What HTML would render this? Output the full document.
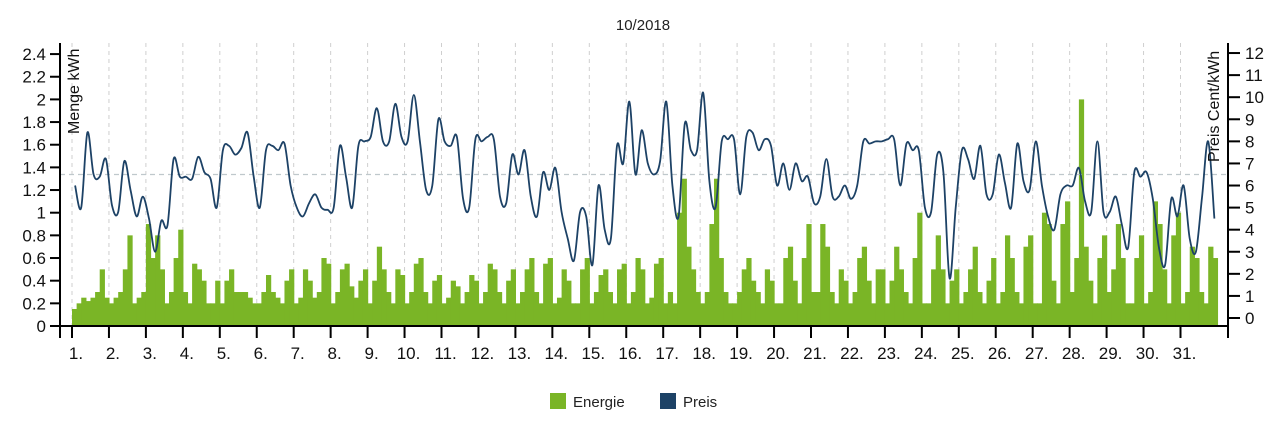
<!DOCTYPE html>
<html><head><meta charset="utf-8">
<style>
body{margin:0;background:#fff;width:1280px;height:432px;overflow:hidden;font-family:"Liberation Sans",sans-serif}
svg text{font-family:"Liberation Sans",sans-serif}
</style></head>
<body>
<svg id="chart" width="1280" height="432" xmlns="http://www.w3.org/2000/svg"></svg>
<script>
const days = [];
for (let i = 1; i <= 31; i++) days.push(i + ".");
const leftTicks = [0,0.2,0.4,0.6,0.8,1,1.2,1.4,1.6,1.8,2,2.2,2.4];
const rightTicks = [0,1,2,3,4,5,6,7,8,9,10,11,12];
const avgPrice = 6.5;
// energy, 8 values per day (3h)
const energy = [
.15,.2,.25,.22,.25,.3,.5,.25, .2,.25,.3,.5,.8,.2,.25,.3, .9,.6,.8,.5,.2,.3,.6,.85,
.3,.2,.55,.5,.4,.2,.2,.4, .2,.4,.5,.3,.3,.3,.25,.2, .2,.3,.45,.3,.25,.2,.4,.5,
.2,.25,.5,.4,.25,.3,.6,.55, .2,.3,.5,.55,.35,.25,.4,.5, .2,.4,.7,.5,.3,.2,.5,.45,
.2,.3,.55,.6,.3,.2,.4,.45, .2,.25,.4,.35,.2,.3,.45,.4, .2,.3,.55,.5,.3,.2,.4,.5,
.2,.3,.5,.6,.3,.2,.55,.6, .2,.25,.5,.4,.2,.2,.5,.6, .2,.3,.45,.5,.3,.2,.5,.55,
.2,.3,.6,.5,.2,.25,.55,.6, .2,.3,.2,1.0,1.3,.7,.5,.3, .2,.3,.9,1.3,.6,.3,.2,.2,
.3,.5,.6,.4,.3,.2,.5,.4, .2,.2,.6,.7,.4,.2,.6,.9, .3,.3,.9,.7,.3,.2,.5,.4,
.2,.3,.6,.7,.4,.2,.5,.5, .2,.4,.7,.5,.3,.2,.6,1.0, .2,.2,.5,.8,.5,.2,.4,.5,
.2,.3,.5,.7,.3,.2,.4,.6, .2,.3,.8,.6,.3,.2,.7,.8, .2,.2,1.0,.9,.4,.2,.9,1.1,
.3,.6,2.0,.7,.4,.2,.6,.8, .3,.5,.9,.6,.2,.2,.6,.8, .2,.3,1.1,.9,.5,.2,.8,1.0,
.2,.3,.7,.6,.3,.2,.7,.6];
// price, 6 values per day (4h)
const price = [
6.0,5.0,8.4,6.5,6.4,7.2, 5.1,4.8,7.1,5.8,4.6,5.5, 4.5,3.0,4.4,4.2,7.2,6.4,
6.4,6.3,7.3,6.6,6.3,5.0, 7.6,7.8,7.4,7.7,8.4,6.4, 5.0,7.6,7.8,7.6,7.9,6.0,
5.0,4.6,5.2,5.6,5.0,4.9, 5.0,7.8,6.4,5.0,7.8,8.0, 8.2,9.5,8.0,8.0,9.7,8.2,
8.0,10.1,8.0,5.8,6.0,9.0, 8.0,7.8,8.2,5.4,5.0,8.1, 8.0,8.2,8.1,5.5,5.2,7.4,
6.5,7.6,5.5,4.6,6.6,5.8, 6.8,4.8,3.6,2.6,4.8,4.6, 2.4,6.0,4.0,3.6,7.8,7.0,
9.8,6.5,8.5,7.0,6.5,7.1, 9.8,6.0,4.6,8.8,7.6,7.6, 10.2,6.2,5.0,8.0,8.1,8.1,
5.6,8.2,8.4,7.6,8.1,7.8, 6.0,7.0,5.8,7.0,6.2,6.4, 5.2,5.5,7.2,5.5,5.5,6.0,
5.4,6.0,8.0,7.9,8.0,8.0, 8.1,8.1,6.0,7.9,7.6,7.6, 5.0,4.8,7.4,6.6,1.8,5.0,
7.6,7.2,6.3,7.8,5.6,5.6, 7.4,6.1,5.0,7.9,6.2,5.8, 8.0,6.0,4.6,4.0,5.6,6.0,
6.0,6.8,5.3,4.8,8.0,4.8, 4.8,5.5,4.2,3.2,6.6,6.4, 6.6,5.4,3.2,2.4,5.4,4.6,
6.0,3.6,3.0,5.5,8.0,4.5];

const svg = document.getElementById('chart');
const NS = 'http://www.w3.org/2000/svg';
function mk(tag, attrs, parent){const e=document.createElementNS(NS,tag);for(const k in attrs)e.setAttribute(k,attrs[k]);(parent||svg).appendChild(e);return e;}
const X0=72, DAYW=36.95, LAX=60, RAX=1228, TOP=43, BOT=326;
const xDay = d => X0 + d*DAYW;
const yL = v => 326 - v*113.3;
const yR = v => 318 - v*22.08;

for (let i=0;i<days.length;i++){
  const g=mk('line',{x1:xDay(i),x2:xDay(i),y1:TOP,y2:BOT,stroke:'#cfcfcf','stroke-dasharray':'4,4','stroke-width':1});
  
  
}
const bw = DAYW/8;
energy.forEach((v,i)=>{
  const x=xDay(i/8);
  const r=mk('rect',{x:x.toFixed(2),y:yL(v).toFixed(2),width:(bw+0.6).toFixed(2),height:(BOT-yL(v)).toFixed(2),fill:'#7ab526'});
  
  
});
const av=mk('line',{x1:LAX,x2:RAX,y1:yR(avgPrice),y2:yR(avgPrice),stroke:'#bfc8cc','stroke-dasharray':'5,4','stroke-width':1.2});


const pts = price.map((v,i)=>[xDay(i/6+1/12), yR(v)]);
let d=`M${pts[0][0]},${pts[0][1]}`;
for(let i=0;i<pts.length-1;i++){
  const p0=pts[Math.max(0,i-1)],p1=pts[i],p2=pts[i+1],p3=pts[Math.min(pts.length-1,i+2)];
  const c1=[p1[0]+(p2[0]-p0[0])/6,p1[1]+(p2[1]-p0[1])/6];
  const c2=[p2[0]-(p3[0]-p1[0])/6,p2[1]-(p3[1]-p1[1])/6];
  d+=` C${c1[0].toFixed(1)},${c1[1].toFixed(1)} ${c2[0].toFixed(1)},${c2[1].toFixed(1)} ${p2[0].toFixed(1)},${p2[1].toFixed(1)}`;
}
const pl=mk('path',{d:d,fill:'none',stroke:'#1d4266','stroke-width':1.8,'stroke-linejoin':'round'});



const axL=mk('line',{x1:LAX,x2:LAX,y1:TOP,y2:BOT+12,stroke:'#000','stroke-width':2});


const axR=mk('line',{x1:RAX,x2:RAX,y1:TOP,y2:BOT+12,stroke:'#000','stroke-width':2});


const axB=mk('line',{x1:LAX-10,x2:RAX,y1:BOT,y2:BOT,stroke:'#000','stroke-width':2});


leftTicks.forEach(v=>{
  mk('line',{x1:LAX-10,x2:LAX,y1:yL(v),y2:yL(v),stroke:'#000','stroke-width':2});
  const t=mk('text',{x:LAX-14,y:yL(v)+6,'text-anchor':'end','font-size':17,fill:'#111'});
  t.textContent=String(v);
  
  
});
rightTicks.forEach(v=>{
  mk('line',{x1:RAX,x2:RAX+12,y1:yR(v),y2:yR(v),stroke:'#000','stroke-width':2});
  const t=mk('text',{x:RAX+17,y:yR(v)+6,'font-size':17,fill:'#111'});
  t.textContent=String(v);
  
  
});
days.forEach((lab,i)=>{
  mk('line',{x1:xDay(i),x2:xDay(i),y1:BOT,y2:BOT+12,stroke:'#000','stroke-width':2});
  const t=mk('text',{x:xDay(i)+4,y:359,'text-anchor':'middle','font-size':17,fill:'#111'});
  t.textContent=lab;
  
  
});
</script>
<svg style="position:absolute;left:0;top:0" width="1280" height="432">
  <text x="643" y="30" text-anchor="middle" font-size="15" fill="#222">10/2018</text>
  <text transform="translate(79,134) rotate(-90)" font-size="16" fill="#111">Menge kWh</text>
  <text transform="translate(1219,162) rotate(-90)" font-size="16" fill="#111">Preis Cent/kWh</text>
  <rect x="550" y="393" width="16" height="16" fill="#7ab526"/>
  <text x="573" y="407" font-size="15" fill="#222">Energie</text>
  <rect x="660" y="393" width="16" height="16" fill="#1d4266"/>
  <text x="683" y="407" font-size="15" fill="#222">Preis</text>
</svg>
</body></html>
